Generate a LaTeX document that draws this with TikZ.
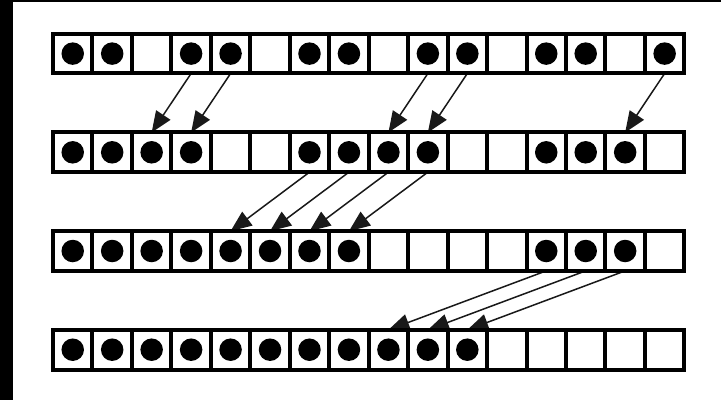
\documentclass[tikz,border=0pt]{standalone}
\usetikzlibrary{arrows.meta,backgrounds}
\tikzset{
  cellbox/.style={draw=black,fill=white,line width=4pt,minimum width=39.46pt,minimum height=39.7pt,inner sep=0pt,outer sep=0pt},
  dotc/.style={circle,fill=black,minimum size=22.5pt,inner sep=0pt},
  mv/.style={draw=black!90,line width=1.5pt,arrows={-Triangle[length=21pt,width=17pt]}}
}
\begin{document}
\begin{tikzpicture}[x=1pt,y=-1pt]
\useasboundingbox (0,0) rectangle (721,400);
\foreach \r/\yy in {1/53.6,2/152.3,3/251.0,4/349.7}
  \foreach \c in {1,...,16}
    \node[cellbox] (r\r-\c) at ({53+(\c-0.5)*39.46},\yy) {};
\foreach \c in {1,2,4,5,7,8,10,11,13,14,16} \node[dotc] (d1-\c) at (r1-\c) {};
\foreach \c in {1,2,3,4,7,8,9,10,13,14,15} \node[dotc] (d2-\c) at (r2-\c) {};
\foreach \c in {1,...,8,13,14,15} \node[dotc] (d3-\c) at (r3-\c) {};
\foreach \c in {1,...,11} \node[dotc] (d4-\c) at (r4-\c) {};
\fill[black] (0,0) rectangle (12.7,400);
\fill[black] (0,0) rectangle (721,2);
\begin{scope}[on background layer]
  \fill[white] (0,0) rectangle (721,400);
  \foreach \a/\b in {4/3,5/4,10/9,11/10,16/15} \draw[mv] (r1-\a.south) -- (r2-\b.north);
  \foreach \a/\b in {7/5,8/6,9/7,10/8} \draw[mv] (r2-\a.south) -- (r3-\b.north);
  \foreach \a/\b in {13/9,14/10,15/11} \draw[mv] (r3-\a.south) -- (r4-\b.north);
\end{scope}
\end{tikzpicture}
\end{document}
